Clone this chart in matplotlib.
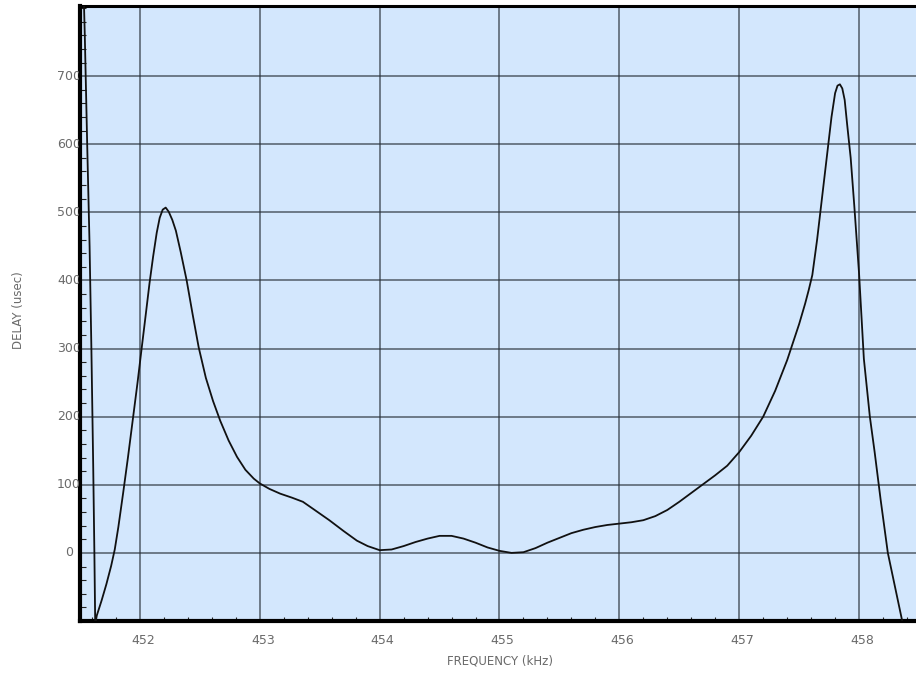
import numpy as np
import matplotlib
matplotlib.use('Agg')
import matplotlib.pyplot as plt
from matplotlib.ticker import MultipleLocator
from matplotlib.transforms import Bbox, TransformedBbox, ScaledTranslation, blended_transform_factory

# group delay
freq = [451.525, 451.54, 451.56, 451.58, 451.595, 451.61, 451.62, 451.627, 451.64,
        451.68, 451.72, 451.76, 451.79, 451.82, 451.86, 451.90, 451.94, 451.98,
        452.01, 452.05, 452.08, 452.11, 452.14, 452.165, 452.19, 452.215, 452.24, 452.27,
        452.30, 452.34, 452.39, 452.44, 452.49, 452.55, 452.61, 452.67, 452.74,
        452.81, 452.88, 452.95, 453.00, 453.08, 453.17, 453.27, 453.36, 453.45,
        453.58, 453.70, 453.81, 453.90, 454.00, 454.10, 454.20, 454.30, 454.40,
        454.50, 454.60, 454.70, 454.80, 454.90, 455.00, 455.10, 455.20, 455.30,
        455.40, 455.50, 455.60, 455.70, 455.80, 455.90, 456.00, 456.10, 456.20,
        456.30, 456.40, 456.50, 456.60, 456.70, 456.80, 456.90, 457.00, 457.10,
        457.20, 457.30, 457.40, 457.50, 457.55, 457.58, 457.61, 457.65, 457.70, 457.74,
        457.77, 457.80, 457.82, 457.84, 457.86, 457.88, 457.90, 457.93, 457.96,
        458.00, 458.04, 458.09, 458.13, 458.18, 458.24, 458.30, 458.36, 458.40]
delay = [860, 760, 600, 450, 300, 130, 0, -105, -92,
         -70, -46, -19, 5, 38, 88, 140, 195, 250,
         294, 352, 396, 435, 470, 492, 504, 507, 501, 489,
         473, 442, 400, 350, 302, 257, 223, 194, 165,
         141, 122, 109, 102, 94, 87, 81, 75, 64,
         48, 32, 18, 10, 4, 5, 10, 16, 21,
         25, 25, 21, 15, 8, 3, 0, 1, 7,
         15, 22, 29, 34, 38, 41, 43, 45, 48,
         54, 63, 75, 88, 101, 114, 128, 148, 172,
         200, 238, 283, 336, 366, 386, 408, 460, 535, 595,
         640, 675, 686, 688, 682, 665, 630, 580, 510,
         410, 285, 200, 148, 78, 0, -50, -100, -135]

xticks = [452, 453, 454, 455, 456, 457, 458]
yticks = [0, 100, 200, 300, 400, 500, 600, 700]

W, H = 916, 681
fig = plt.figure(figsize=(W / 100, H / 100), dpi=100)
ax = fig.add_axes([80 / W, 60 / H, (W - 80) / W, (621 - 6) / H])
ax.set_facecolor('#d3e7fd')

ax.plot(freq, delay, color='#111111', lw=1.3, zorder=3)

ax.set_xlim(451.5, 458.475)
ax.set_ylim(-100, 803)
ax.set_xticks(xticks)
ax.set_yticks(yticks)
ax.set_yticklabels([])
ax.xaxis.set_minor_locator(MultipleLocator(0.2))
ax.yaxis.set_minor_locator(MultipleLocator(20))
ax.grid(True, which='major', color='#262e36', alpha=0.75, lw=1.1)

ax.tick_params(which='major', direction='in', length=0, labelsize=9,
               labelcolor='#6a6a6a')
ax.tick_params(axis='x', which='major', pad=9)
ax.tick_params(which='minor', direction='in', length=3, width=0.8, color='#222222')
ax.tick_params(axis='y', which='minor', length=4)
ax.tick_params(top=False, right=False, which='both')

for side in ['left', 'bottom']:
    ax.spines[side].set_linewidth(3)
ax.spines['top'].set_linewidth(2.2)
ax.spines['right'].set_visible(False)
for s in ax.spines.values():
    s.set_color('black')

shift = ScaledTranslation(0.03, 0, fig.dpi_scale_trans)
for lbl in ax.get_xticklabels():
    lbl.set_transform(lbl.get_transform() + shift)

# y labels sit partly under the plot area, so cut them at its left edge
clip = TransformedBbox(Bbox.from_extents(0, 0, 79 / W, 1), fig.transFigure)
ytrans = blended_transform_factory(fig.transFigure, ax.transData)
for v in yticks:
    t = fig.text(69 / W, v, str(v), transform=ytrans, ha='center', va='center',
                 fontsize=9, color='#6a6a6a')
    t.set_clip_on(True)
    t.set_clip_box(clip)

fig.text(500 / W, 1 - 661 / H, 'FREQUENCY (kHz)', ha='center', va='center',
         fontsize=8.5, color='#6a6a6a')
fig.text(19 / W, 1 - 310 / H, 'DELAY (usec)', ha='center', va='center',
         rotation=90, fontsize=8.5, color='#6a6a6a')

fig.savefig('out.png', dpi=100)
